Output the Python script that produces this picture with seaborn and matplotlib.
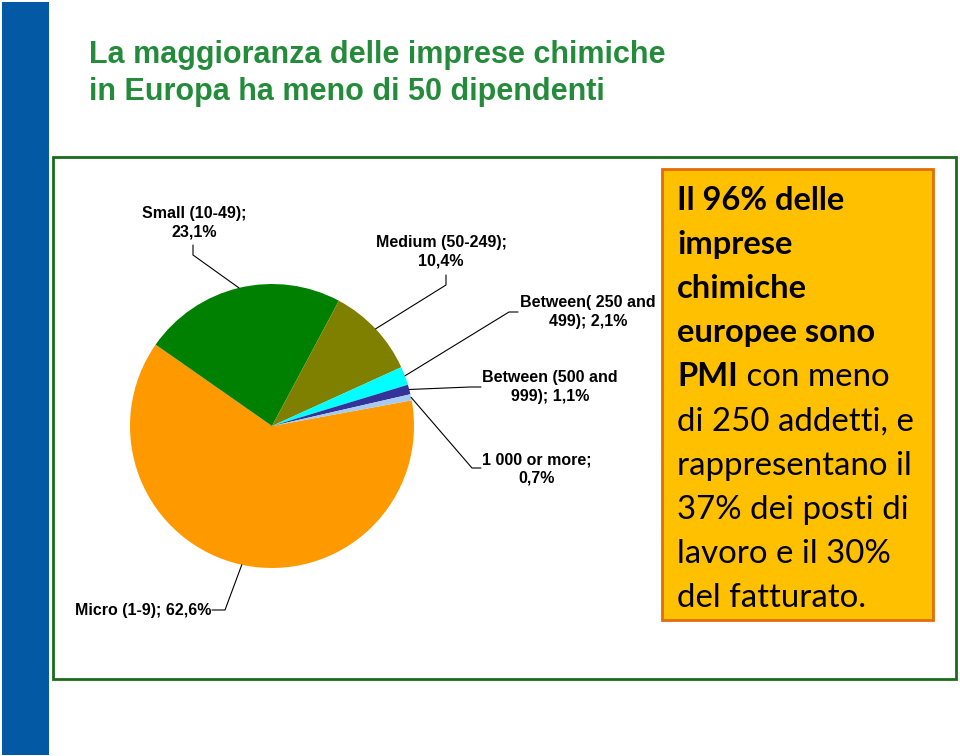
import numpy as np
import matplotlib
matplotlib.use("Agg")
import matplotlib.pyplot as plt
from matplotlib.patches import Rectangle
import seaborn as sns

# Dati: imprese chimiche in Europa per classe dimensionale (% sul totale)
categorie = ["Micro (1-9)", "Small (10-49)", "Medium (50-249)",
             "Between( 250 and\n499)", "Between (500 and\n999)", "1 000 or more"]
quote = [62.6, 23.1, 10.4, 2.1, 1.1, 0.7]
separatori = [" ", "\n", "\n", " ", " ", "\n"]
colori = ["#FF9900", "#008000", "#808000", "#00FFFF", "#333399", "#A6CAF0"]

titolo = ["La maggioranza delle imprese chimiche",
          "in Europa ha meno di 50 dipendenti"]

# testo del riquadro: (parte in grassetto, parte normale) per riga
righe_box = [("Il 96% delle", ""), ("imprese", ""), ("chimiche", ""),
             ("europee sono", ""), ("PMI", " con meno"),
             ("", "di 250 addetti, e"), ("", "rappresentano il"),
             ("", "37% dei posti di"), ("", "lavoro e il 30%"),
             ("", "del fatturato.")]

sns.set_theme(style="white")
plt.rcParams["font.family"] = ["Liberation Sans", "DejaVu Sans"]

W, H = 960, 756
fig = plt.figure(figsize=(W / 100, H / 100), dpi=100)
ax = fig.add_axes([0, 0, 1, 1])

def Y(y):
    # coordinate immagine (y verso il basso) -> coordinate assi
    return H - y

# barra blu a sinistra
ax.add_patch(Rectangle((2, Y(755)), 47, 753, facecolor="#0359A4", edgecolor="none"))
# cornice verde
ax.add_patch(Rectangle((53, Y(679)), 903, 522, facecolor="none",
                       edgecolor="#1B6B1B", linewidth=2))

# titolo
for i, riga in enumerate(titolo):
    ax.text(89, Y(63 + i * 37), riga, fontsize=22, fontweight="bold",
            color="#238B3A", ha="left", va="baseline")

# torta
centro = (272, Y(426))
raggio = 142
spicchi, _ = ax.pie(quote, colors=sns.color_palette(colori), startangle=10.4,
                    counterclock=False, center=centro, radius=raggio,
                    wedgeprops=dict(linewidth=0))

# posizioni etichette: testo, inizio linea, gomito (coordinate immagine)
layout = [
    ((143, 610), (212, 610), (225, 610)),
    ((194, 223), (193, 245), (193, 255)),
    ((441, 252), (446, 275), (446, 285)),
    ((588, 312), (518, 312), (509, 312)),
    ((550, 387), (481, 387), (470, 387)),
    ((537, 469), (481, 468), (472, 468)),
]

for w, cat, q, sep, (pt, p0, p1) in zip(spicchi, categorie, quote, separatori, layout):
    etichetta = f"{cat};{sep}{q:.1f}%".replace(".", ",")
    ax.text(pt[0], Y(pt[1]), etichetta, fontsize=11.5, fontweight="bold",
            ha="center", va="center", multialignment="center", color="black",
            linespacing=1.3)
    ang = np.deg2rad((w.theta1 + w.theta2) / 2)
    bordo = (centro[0] + raggio * np.cos(ang), centro[1] + raggio * np.sin(ang))
    ax.plot([p0[0], p1[0], bordo[0]], [Y(p0[1]), Y(p1[1]), bordo[1]],
            color="black", linewidth=0.8)

# riquadro arancione con testo
ax.add_patch(Rectangle((662, Y(620)), 271, 451, facecolor="#FFC000",
                       edgecolor="#E36C09", linewidth=2))

ax.set_xlim(0, W)
ax.set_ylim(0, H)
ax.set_aspect("auto")
ax.axis("off")

fig.canvas.draw()
renderer = fig.canvas.get_renderer()
box_font = ["Lato", "DejaVu Sans"]
for i, (grassetto, normale) in enumerate(righe_box):
    yb = Y(210 + i * 44.1)
    x = 677
    if grassetto:
        t = ax.text(x, yb, grassetto, fontsize=23.5, fontweight="bold",
                    family=box_font, ha="left", va="baseline", color="black")
        bb = t.get_window_extent(renderer)
        x = x + bb.width
    if normale:
        ax.text(x, yb, normale, fontsize=23.8, family=box_font,
                ha="left", va="baseline", color="black")

fig.savefig("out.png", dpi=100)
